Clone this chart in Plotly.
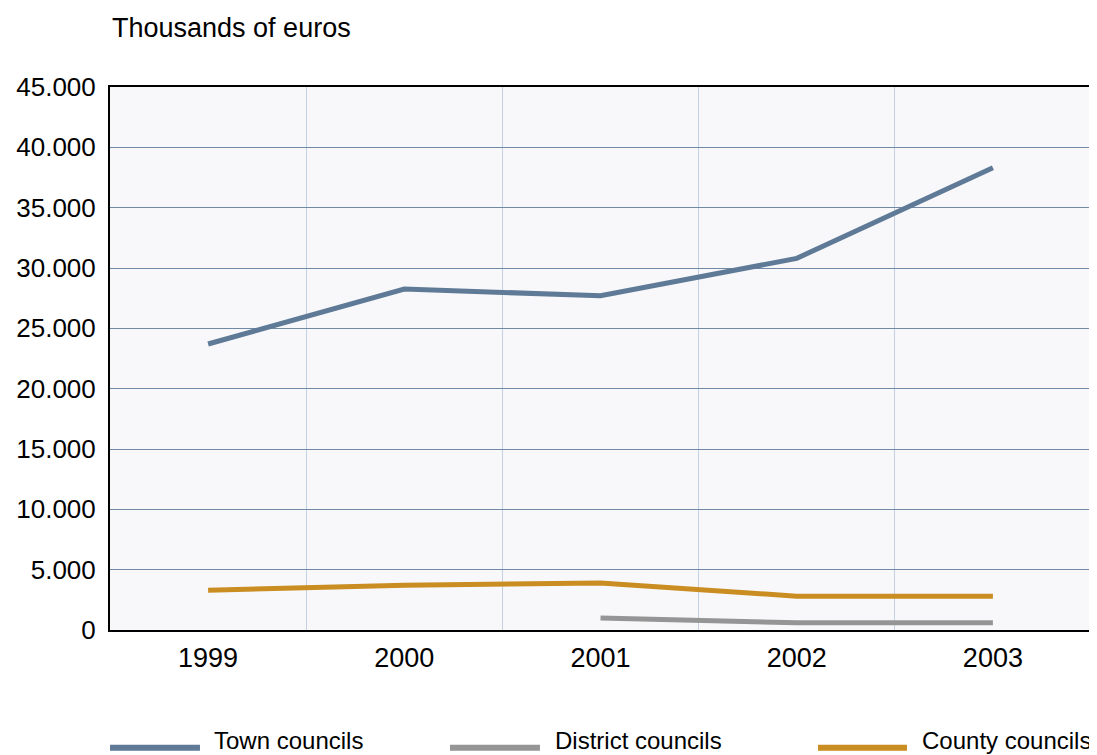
import plotly.graph_objects as go

years = ["1999", "2000", "2001", "2002", "2003"]
town = [23700, 28250, 27700, 30800, 38300]
district = [None, None, 1000, 600, 600]
county = [3300, 3700, 3900, 2800, 2800]
y_ticks = [0, 5000, 10000, 15000, 20000, 25000, 30000, 35000, 40000, 45000]

series = [
    ("Town councils", town, "#5f7a96"),
    ("District councils", district, "#959595"),
    ("County councils", county, "#c98d22"),
]

FONT = "Liberation Sans, Arial, Helvetica, sans-serif"
fig = go.Figure()
for name, vals, col in series:
    fig.add_trace(go.Scatter(x=years, y=vals, name=name, mode="lines",
                             line=dict(color=col, width=5), showlegend=False,
                             connectgaps=False))

# custom legend
leg = [(0.0, 0.0917, 0.105), (0.3466, 0.4383, 0.4526), (0.7217, 0.8124, 0.8267)]
ly = -0.217
for (name, vals, col), (x0, x1, xt) in zip(series, leg):
    fig.add_shape(type="line", xref="paper", yref="paper", x0=x0, x1=x1, y0=ly, y1=ly,
                  line=dict(color=col, width=6))
    fig.add_annotation(xref="paper", yref="paper", x=xt, y=-0.2302, text=name,
                       showarrow=False, xanchor="left", yanchor="bottom", borderpad=0,
                       font=dict(size=24, color="black", family=FONT))

fig.add_annotation(xref="paper", yref="paper", x=0, y=1.109, text="Thousands of euros",
                   showarrow=False, xanchor="left", yanchor="middle",
                   font=dict(size=27, color="black", family=FONT))

fig.update_layout(
    width=1089, height=747,
    margin=dict(l=102, r=6, t=79, b=125, autoexpand=False),
    paper_bgcolor="white", plot_bgcolor="#f8f8fb",
    separators=",.",
    font=dict(family=FONT, size=27, color="black"),
)
fig.update_xaxes(type="category", tickson="boundaries", range=[-0.5, 4.5],
                 showgrid=True, gridcolor="#c4d1e4", gridwidth=1, ticks="",
                 showline=True, linecolor="black", linewidth=2, mirror=True,
                 ticklabelstandoff=3, zeroline=False, automargin=False)
fig.update_yaxes(range=[0, 45000], tickvals=y_ticks, tickformat=",d",
                 showgrid=True, gridcolor="#7189a5", gridwidth=1, ticks="",
                 showline=True, linecolor="black", linewidth=2, mirror=True,
                 ticklabelstandoff=7, zeroline=False, automargin=False,
                 tickfont=dict(size=26))

fig.write_html("out.html")
